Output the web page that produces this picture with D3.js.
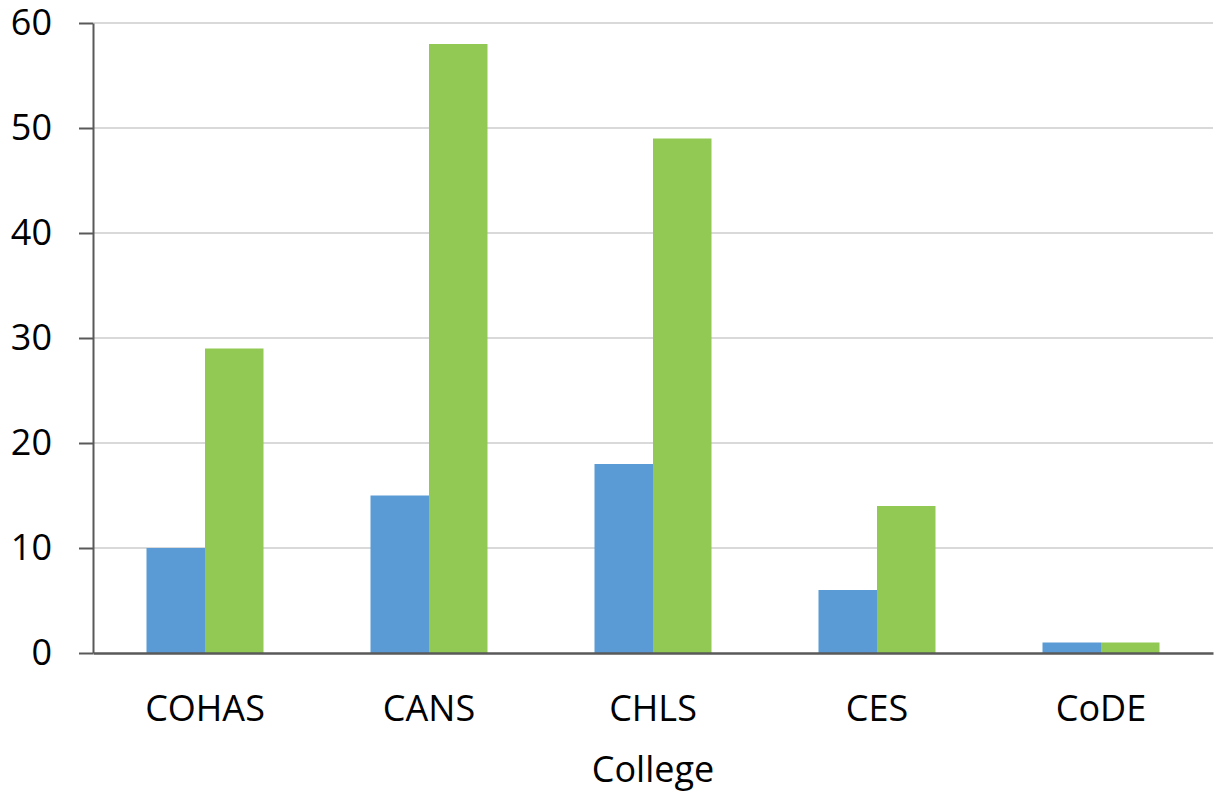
<!DOCTYPE html>
<html>
<head>
<meta charset="utf-8">
<script src="https://cdn.jsdelivr.net/npm/d3@7"></script>
<style>
  html, body { margin: 0; padding: 0; background: #fff; }
  svg { display: block; }
  text { font-family: "Open Sans", "Noto Sans", sans-serif; fill: #000; }
</style>
</head>
<body>
<svg id="chart" width="1216" height="794"></svg>
<script>
// Colleges along the x axis
const categories = ["COHAS", "CANS", "CHLS", "CES", "CoDE"];
// Two series per college
const seriesBlue = [10, 15, 18, 6, 1];
const seriesGreen = [29, 58, 49, 14, 1];
const yTicks = [0, 10, 20, 30, 40, 50, 60];
const xTitle = "College";

const svg = d3.select("#chart");
const plotLeft = 93, plotRight = 1213, plotTop = 23, plotBottom = 653;

const x = d3.scaleBand()
  .domain(categories)
  .range([plotLeft, plotRight])
  .paddingInner(107 / 224)
  .paddingOuter(107 / 448);

const xSub = d3.scaleBand()
  .domain(["blue", "green"])
  .range([0, x.bandwidth()]);

const y = d3.scaleLinear().domain([0, 60]).range([plotBottom, plotTop]);

// Horizontal gridlines
svg.append("g")
  .selectAll("line")
  .data(yTicks.filter(d => d > 0))
  .join("line")
  .attr("x1", plotLeft).attr("x2", plotRight)
  .attr("y1", d => y(d)).attr("y2", d => y(d))
  .attr("stroke", "#d9d9d9").attr("stroke-width", 2);

// Bars
const rows = categories.map((c, i) => ({ c, blue: seriesBlue[i], green: seriesGreen[i] }));
const colors = { blue: "#5b9bd5", green: "#92c955" };
const groups = svg.append("g")
  .selectAll("g")
  .data(rows)
  .join("g")
  .attr("transform", d => `translate(${x(d.c)},0)`);
groups.selectAll("rect")
  .data(d => ["blue", "green"].map(k => ({ k, v: d[k] })))
  .join("rect")
  .attr("x", d => xSub(d.k))
  .attr("width", xSub.bandwidth())
  .attr("y", d => y(d.v))
  .attr("height", d => y(0) - y(d.v))
  .attr("fill", d => colors[d.k]);

// Y axis
const yAxis = svg.append("g")
  .attr("transform", `translate(${plotLeft},0)`)
  .call(d3.axisLeft(y).tickValues(yTicks).tickSize(14).tickPadding(27).tickSizeOuter(0));
yAxis.select(".domain").attr("stroke", "#595959").attr("stroke-width", 2);
yAxis.selectAll(".tick line").attr("stroke", "#595959").attr("stroke-width", 2);
yAxis.selectAll(".tick text")
  .attr("font-size", 36)
  .attr("font-family", "'Open Sans', sans-serif")
  .attr("fill", "#000");

// X axis baseline and labels
const xAxis = svg.append("g")
  .attr("transform", `translate(0,${plotBottom})`)
  .call(d3.axisBottom(x).tickSize(0).tickPadding(42).tickSizeOuter(0));
xAxis.select(".domain").attr("stroke", "#595959").attr("stroke-width", 2.5);
xAxis.selectAll(".tick text")
  .attr("font-size", 36)
  .attr("font-family", "'Open Sans', sans-serif")
  .attr("fill", "#000");

// Axis title
svg.append("text")
  .attr("x", (plotLeft + plotRight) / 2)
  .attr("y", 782)
  .attr("text-anchor", "middle")
  .attr("font-size", 36)
  .text(xTitle);
</script>
</body>
</html>
